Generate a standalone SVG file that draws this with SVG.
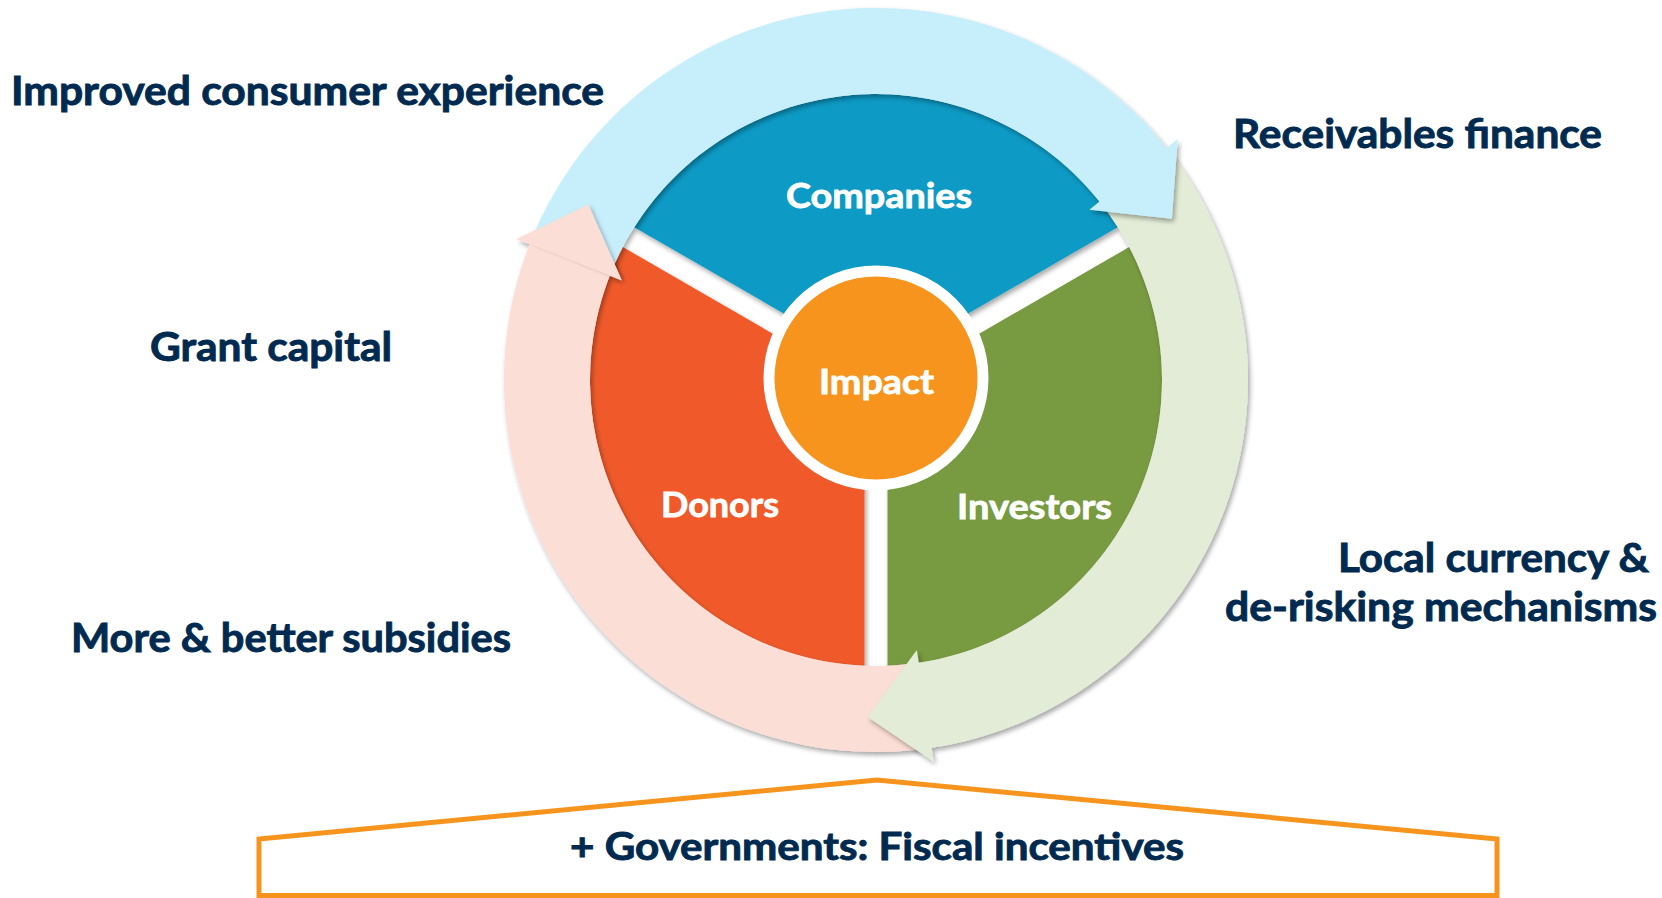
<svg xmlns="http://www.w3.org/2000/svg" width="1662" height="898" viewBox="0 0 1662 898">
  <defs>
    <style>
      .label { font-family: Lato, "Open Sans", "Liberation Sans", sans-serif; font-weight: 700; fill: #002A4F; stroke: #002A4F; stroke-width: 0.9px; font-size: 40px; }
      .seg-label { font-family: Lato, "Open Sans", "Liberation Sans", sans-serif; font-weight: 700; fill: #FFFFFF; stroke: #FFFFFF; stroke-width: 0.8px; font-size: 35px; }
      .gov { font-family: Lato, "Open Sans", "Liberation Sans", sans-serif; font-weight: 700; fill: #002A4F; stroke: #002A4F; stroke-width: 0.9px; font-size: 38px; }
      .seg-companies { fill: #0C9AC5; }
      .seg-donors { fill: #F05A2A; }
      .seg-investors { fill: #789A41; }
      .impact { fill: #F7941D; stroke: #FFFFFF; stroke-width: 11; }
      .arrow-blue { fill: #C7EEFB; }
      .arrow-green { fill: #E2ECD6; }
      .arrow-pink { fill: #FBDED6; }
      .house { fill: none; stroke: #F7941D; stroke-width: 5; stroke-linejoin: miter; }
    </style>
    <filter id="shadow" x="-20%" y="-20%" width="140%" height="140%">
      <feGaussianBlur in="SourceAlpha" stdDeviation="2.5"/>
      <feOffset dx="2" dy="3"/>
      <feComponentTransfer>
        <feFuncA type="linear" slope="0.35"/>
      </feComponentTransfer>
      <feMerge>
        <feMergeNode/>
        <feMergeNode in="SourceGraphic"/>
      </feMerge>
    </filter>
    <!-- wedge beyond the base of the pink arrowhead, so its redraw never shades its own band -->
    <clipPath id="pinkHeadClip">
      <polygon points="876,380 317.4,161.1 576,-139.6"/>
    </clipPath>
  </defs>

  <!-- central disc: three segments separated by white spokes -->
  <g id="companies">
    <path class="seg-companies" filter="url(#shadow)" d="M 876 366.72 L 634.27 227.16 A 286 286 0 0 1 1117.73 227.16 Z"/>
    <text class="seg-label" x="786" y="208" textLength="186" lengthAdjust="spacingAndGlyphs">Companies</text>
  </g>
  <g id="donors">
    <path class="seg-donors" filter="url(#shadow)" d="M 864.5 386.64 L 864.5 665.77 A 286 286 0 0 1 622.77 247.07 Z"/>
    <text class="seg-label" x="661" y="517" textLength="118" lengthAdjust="spacingAndGlyphs">Donors</text>
  </g>
  <g id="investors">
    <path class="seg-investors" filter="url(#shadow)" d="M 887.5 386.64 L 1129.23 247.07 A 286 286 0 0 1 887.5 665.77 Z"/>
    <text class="seg-label" x="957" y="519" textLength="155" lengthAdjust="spacingAndGlyphs">Investors</text>
  </g>
  <g id="impact">
    <circle class="impact" cx="876" cy="378" r="107"/>
    <text class="seg-label" x="819" y="394" textLength="115" lengthAdjust="spacingAndGlyphs">Impact</text>
  </g>

  <!-- clockwise cycle arrows around the disc -->
  <g id="connectors">
    <path class="arrow-pink" filter="url(#shadow)" d="M 926.49 748.56 A 372 372 0 0 1 529.64 244.26 L 516.60 239.15 L 588.35 204.42 L 621.82 280.39 L 609.71 275.64 A 286 286 0 0 0 914.82 663.35 Z"/>
    <path class="arrow-green" filter="url(#shadow)" d="M 1169.94 152.00 A 372 372 0 0 1 931.63 747.82 L 933.72 761.66 L 867.77 716.90 L 916.82 649.93 L 918.77 662.79 A 286 286 0 0 0 1101.99 204.71 Z"/>
    <path class="arrow-blue" filter="url(#shadow)" d="M 531.58 239.44 A 372 372 0 0 1 1166.74 147.91 L 1177.68 139.17 L 1171.90 218.67 L 1089.37 209.67 L 1099.53 201.56 A 286 286 0 0 0 611.20 271.94 Z"/>
    <g clip-path="url(#pinkHeadClip)">
      <path class="arrow-pink" filter="url(#shadow)" d="M 516.60 239.15 L 588.35 204.42 L 621.82 280.39 Z"/>
    </g>
  </g>

  <!-- side labels -->
  <g id="label-consumer">
    <text class="label" x="11" y="105" textLength="593" lengthAdjust="spacingAndGlyphs">Improved consumer experience</text>
  </g>
  <g id="label-receivables">
    <text class="label" x="1233" y="148" textLength="369" lengthAdjust="spacingAndGlyphs">Receivables finance</text>
  </g>
  <g id="label-grant">
    <text class="label" x="150" y="361" textLength="242" lengthAdjust="spacingAndGlyphs">Grant capital</text>
  </g>
  <g id="label-subsidies">
    <text class="label" x="71" y="652" textLength="440" lengthAdjust="spacingAndGlyphs">More &amp; better subsidies</text>
  </g>
  <g id="label-currency">
    <text class="label" x="1338" y="572" textLength="311" lengthAdjust="spacingAndGlyphs">Local currency &amp;</text>
    <text class="label" x="1225" y="621" textLength="432" lengthAdjust="spacingAndGlyphs">de-risking mechanisms</text>
  </g>

  <!-- governments base -->
  <g id="governments">
    <polygon class="house" points="259,899 259,839 877,780 1497,839 1497,899"/>
    <line x1="259" y1="895.5" x2="1497" y2="895.5" stroke="#F7941D" stroke-width="5"/>
    <text class="gov" x="570" y="860" textLength="614" lengthAdjust="spacingAndGlyphs">+ Governments: Fiscal incentives</text>
  </g>
</svg>
